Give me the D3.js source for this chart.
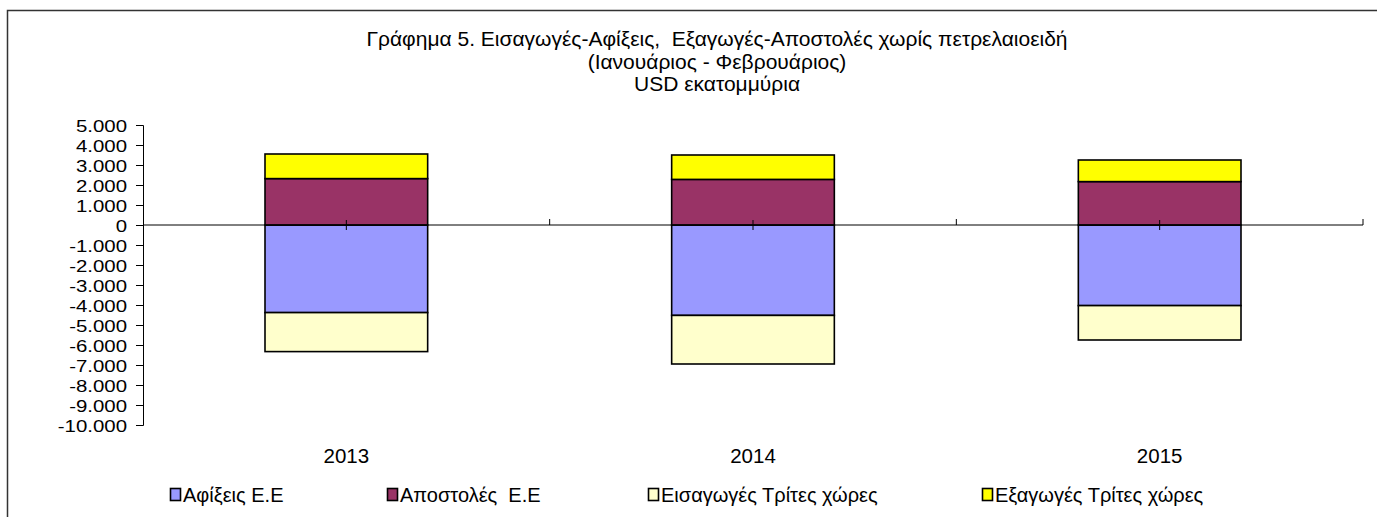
<!DOCTYPE html>
<html>
<head>
<meta charset="utf-8">
<script src="https://cdn.jsdelivr.net/npm/d3@7"></script>
<style>
  body { margin: 0; background: #fff; }
  text { font-family: "Liberation Sans", Arial, sans-serif; fill: #000; white-space: pre; }
</style>
</head>
<body>
<div id="chart-area"></div>
<script>
// values (USD millions, Jan-Feb)
const years = ['2013', '2014', '2015']
const afixeisEE = [-4380, -4520, -4030]
const apostolesEE = [2320, 2280, 2170]
const eisagogesTrites = [-1950, -2430, -1720]
const exagogesTrites = [1230, 1220, 1080]

const yTicks = [5000, 4000, 3000, 2000, 1000, 0, -1000, -2000, -3000, -4000, -5000, -6000, -7000, -8000, -9000, -10000]

const seriesNames = ['Αφίξεις Ε.Ε', 'Αποστολές  Ε.Ε', 'Εισαγωγές Τρίτες χώρες', 'Εξαγωγές Τρίτες χώρες']
const seriesColors = ['#9999FF', '#993366', '#FFFFCC', '#FFFF00']
const titleLines = ['Γράφημα 5. Εισαγωγές-Αφίξεις,  Εξαγωγές-Αποστολές χωρίς πετρελαιοειδή', '(Ιανουάριος - Φεβρουάριος)', 'USD εκατομμύρια']

const W = 1377, H = 517
const PLOT = { LEFT: 143, RIGHT: 1363, TOP: 125, BOTTOM: 425 }

const svg = d3.select('#chart-area')
.append('svg')
.attr('width', W)
.attr('height', H)

svg.append('rect').attr('width', W).attr('height', H).attr('fill', '#fff')

// outer chart frame (cut off on the right and bottom)
svg.append('path')
.attr('d', `M7.5,${H + 2} V10.5 H${W + 2}`)
.attr('fill', 'none')
.attr('stroke', '#333')
.attr('stroke-width', 1.5)

// title
svg.append('g')
.selectAll('text')
.data(titleLines)
.enter().append('text')
.attr('x', 717)
.attr('y', (d, i) => 46 + i * 22.5)
.attr('text-anchor', 'middle')
.attr('font-size', '21px')
.text(d => d)

// table for the stack
const keys = ['afixeis', 'apostoles', 'eisagoges', 'exagoges']
const table = years.map((yr, i) => ({
    year: yr,
    afixeis: afixeisEE[i],
    apostoles: apostolesEE[i],
    eisagoges: eisagogesTrites[i],
    exagoges: exagogesTrites[i]
}))

const stacked = d3.stack()
.keys(keys)
.offset(d3.stackOffsetDiverging)(table)

const x = d3.scaleBand()
.domain(years)
.range([PLOT.LEFT, PLOT.RIGHT])
.paddingInner(0.6)
.paddingOuter(0.3)

const y = d3.scaleLinear()
.domain([-10000, 5000])
.range([PLOT.BOTTOM, PLOT.TOP])

const locale = d3.formatLocale({ decimal: ',', thousands: '.', grouping: [3], currency: ['', ''], minus: '-' })
const fmt = locale.format(',')

// y axis
const yAxisCall = d3.axisLeft(y)
.tickValues(yTicks)
.tickSize(7)
.tickPadding(9)
.tickFormat(d => fmt(d))

const yAxis = svg.append('g')
.attr('class', 'y axis')
.attr('transform', `translate(${PLOT.LEFT},0)`)
.call(yAxisCall)
yAxis.select('.domain').attr('stroke', '#000').attr('stroke-width', 1)
yAxis.selectAll('.tick line').attr('stroke', '#000')
// labels sit 20px apart, so keep the font small enough not to collide
// and stretch the glyphs a bit sideways to match the wide original
yAxis.selectAll('text')
.attr('font-size', '17px')
.attr('font-family', '"Liberation Sans", Arial, sans-serif')
.attr('dy', '0.36em')
.each(function() {
    const len = this.getComputedTextLength()
    d3.select(this)
    .attr('textLength', len * 1.2)
    .attr('lengthAdjust', 'spacingAndGlyphs')
})

// bars
svg.append('g')
.selectAll('g')
.data(stacked)
.enter().append('g')
.attr('fill', (d, i) => seriesColors[i])
.selectAll('rect')
.data(d => d)
.enter().append('rect')
.attr('x', d => x(d.data.year))
.attr('y', d => y(Math.max(d[0], d[1])))
.attr('width', x.bandwidth())
.attr('height', d => Math.abs(y(d[0]) - y(d[1])))
.attr('stroke', '#000')
.attr('stroke-width', 1.6)

// category axis along zero
const zeroY = y(0)
const xAxis = svg.append('g').attr('class', 'x axis')
xAxis.append('line')
.attr('x1', PLOT.LEFT).attr('x2', PLOT.RIGHT)
.attr('y1', zeroY).attr('y2', zeroY)
.attr('stroke', '#000')

// boundary ticks between categories
const step = x.step()
const bounds = d3.range(1, years.length + 1).map(i => PLOT.LEFT + i * step)
xAxis.selectAll('.bound')
.data(bounds)
.enter().append('line')
.attr('class', 'bound')
.attr('x1', d => d).attr('x2', d => d)
.attr('y1', zeroY - 6).attr('y2', zeroY)
.attr('stroke', '#000')

// small ticks at category centres
xAxis.selectAll('.mid')
.data(years)
.enter().append('line')
.attr('class', 'mid')
.attr('x1', d => x(d) + x.bandwidth() / 2).attr('x2', d => x(d) + x.bandwidth() / 2)
.attr('y1', zeroY - 5).attr('y2', zeroY + 5)
.attr('stroke', '#000')

// category labels below plot
svg.append('g')
.selectAll('text')
.data(years)
.enter().append('text')
.attr('x', d => x(d) + x.bandwidth() / 2)
.attr('y', 463)
.attr('text-anchor', 'middle')
.attr('font-size', '20.5px')
.text(d => d)

// legend
const legendX = [170, 387, 648, 982]
const legend = svg.append('g')
.selectAll('g')
.data(seriesNames)
.enter().append('g')
.attr('transform', (d, i) => `translate(${legendX[i]},488)`)

legend.append('rect')
.attr('x', 0.5).attr('y', 0.5)
.attr('width', 10).attr('height', 12)
.attr('fill', (d, i) => seriesColors[i])
.attr('stroke', '#000')
.attr('stroke-width', 1.6)

legend.append('text')
.attr('x', 13)
.attr('y', 13.5)
.attr('font-size', '20px')
.text(d => d)
</script>
</body>
</html>
